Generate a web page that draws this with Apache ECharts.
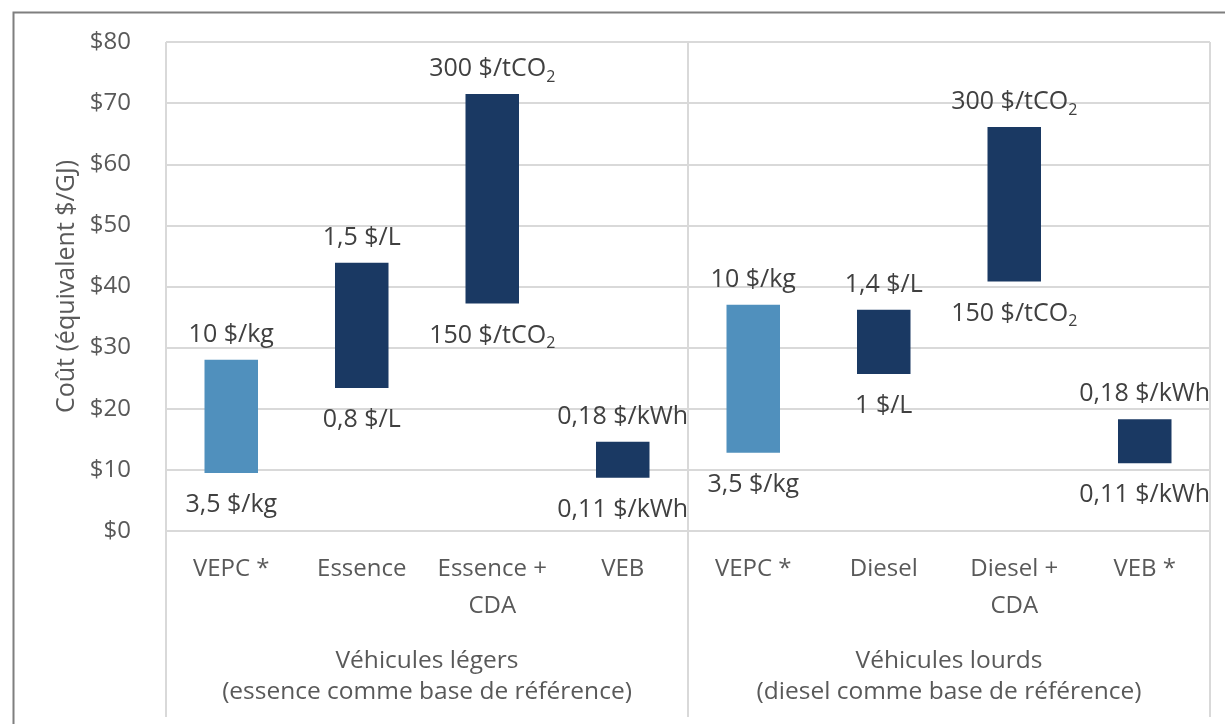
<!DOCTYPE html>
<html>
<head>
<meta charset="utf-8">
<script src="https://cdn.jsdelivr.net/npm/echarts@6/dist/echarts.min.js"></script>
<style>
html,body{margin:0;padding:0;background:#fff;}
#chart{width:1225px;height:724px;}
</style>
</head>
<body>
<div id="chart"></div>
<script>
const categories = ['VEPC *', 'Essence', 'Essence +\nCDA', 'VEB', 'VEPC *', 'Diesel', 'Diesel +\nCDA', 'VEB *'];
const groups = ['Véhicules légers\n(essence comme base de référence)', 'Véhicules lourds\n(diesel comme base de référence)'];
const lowValues = [9.5, 23.4, 37.2, 8.7, 12.8, 25.7, 40.8, 11.1];
const highValues = [28.0, 43.9, 71.5, 14.6, 37.0, 36.2, 66.1, 18.3];
const lowLabels = ['3,5 $/kg', '0,8 $/L', '150 $/tCO2', '0,11 $/kWh', '3,5 $/kg', '1 $/L', '150 $/tCO2', '0,11 $/kWh'];
const highLabels = ['10 $/kg', '1,5 $/L', '300 $/tCO2', '0,18 $/kWh', '10 $/kg', '1,4 $/L', '300 $/tCO2', '0,18 $/kWh'];
const barColors = ['#5090BD', '#1A3963', '#1A3963', '#1A3963', '#5090BD', '#1A3963', '#1A3963', '#1A3963'];
const yTicks = {min: 0, max: 80, interval: 10};

const FONT = 'Open Sans';
const rich = {
  a: {fontFamily: FONT, fontSize: 25, color: '#404040', lineHeight: 32, verticalAlign: 'middle'},
  b: {fontFamily: FONT, fontSize: 16, color: '#404040', lineHeight: 16, verticalAlign: 'bottom'}
};
function fmtLabel(s) {
  if (s.endsWith('CO2')) return '{a|' + s.slice(0, -1) + '}{b|2}';
  return '{a|' + s + '}';
}

const chart = echarts.init(document.getElementById('chart'));
chart.setOption({
  animation: false,
  backgroundColor: '#fff',
  graphic: [{
    type: 'rect', left: 11, top: 10, silent: true,
    shape: {width: 1400, height: 900},
    style: {fill: 'none', stroke: '#7f7f7f', lineWidth: 2}
  }],
  grid: {left: 166, right: 15, top: 42, bottom: 193, containLabel: false},
  xAxis: [{
    type: 'category', data: categories, boundaryGap: true,
    axisLine: {show: false}, axisTick: {show: false},
    axisLabel: {interval: 0, margin: 20, verticalAlign: 'top', fontFamily: FONT, fontSize: 24, color: '#595959', lineHeight: 37}
  }, {
    type: 'category', data: groups, position: 'bottom', boundaryGap: true,
    axisLine: {show: false},
    axisTick: {show: true, length: 186, lineStyle: {color: '#d9d9d9', width: 2}},
    splitLine: {show: true, lineStyle: {color: '#d9d9d9', width: 2}},
    axisLabel: {interval: 0, margin: 115, verticalAlign: 'top', fontFamily: FONT, fontSize: 24.5, color: '#595959', lineHeight: 31}
  }],
  yAxis: {
    type: 'value', min: yTicks.min, max: yTicks.max, interval: yTicks.interval,
    name: 'Coût (équivalent $/GJ)', nameLocation: 'middle', nameGap: 87, nameRotate: 90,
    nameTextStyle: {fontFamily: FONT, fontSize: 25, color: '#595959'},
    axisLine: {show: false}, axisTick: {show: false},
    axisLabel: {formatter: v => '$' + v, margin: 35, fontFamily: FONT, fontSize: 24, color: '#595959'},
    splitLine: {lineStyle: {color: '#d9d9d9', width: 2}}
  },
  series: [{
    type: 'bar', stack: 'range', barWidth: '41%', xAxisIndex: 0,
    data: lowValues,
    itemStyle: {color: 'rgba(0,0,0,0)'},
    label: {show: true, position: 'insideTop', distance: 16, formatter: p => fmtLabel(lowLabels[p.dataIndex]), rich: rich},
    silent: true
  }, {
    type: 'bar', stack: 'range', barWidth: '41%', xAxisIndex: 0,
    data: highValues.map((h, i) => ({value: h - lowValues[i], itemStyle: {color: barColors[i]}})),
    label: {show: true, position: 'top', distance: 9, formatter: p => fmtLabel(highLabels[p.dataIndex]), rich: rich}
  }]
});
</script>
</body>
</html>
